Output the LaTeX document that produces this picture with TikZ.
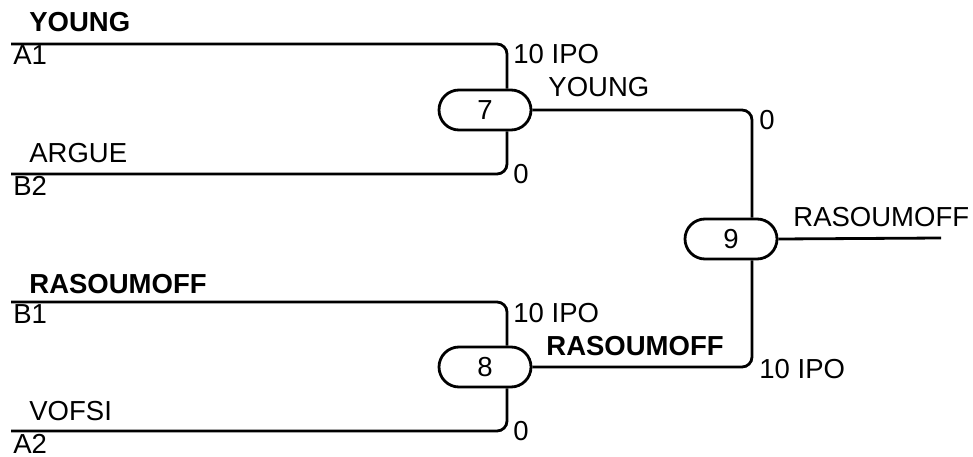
\documentclass[tikz,border=0pt]{standalone}
\usepackage{fontspec}
\setmainfont{Liberation Sans}
\usetikzlibrary{shapes.misc}

\begin{document}
\begin{tikzpicture}[x=1pt,y=-1pt,line width=2.8pt]
    \tikzstyle{every node}=[font=\fontsize{27.5}{33}\selectfont]
    \tikzstyle{gate}=[rounded rectangle,draw,minimum width=92pt,minimum height=40pt,inner sep=0pt]
    \tikzstyle{wire}=[rounded corners=10pt]
    \tikzstyle{lbl}=[anchor=base west,inner sep=0pt]
    \tikzstyle{team}=[lbl,font=\fontsize{27.5}{33}\selectfont\bfseries]

    \useasboundingbox (0,0) rectangle (973,457);

    % Draw the match nodes
    \node[gate] (G-7) at (485,110) {7};
    \node[gate] (G-8) at (485,367) {8};
    \node[gate] (G-9) at (731,239) {9};

    % Draw the entry points
    \foreach \name / \y in {A1/44,B2/174,B1/302,A2/431}
        \coordinate (E-\name) at (11,\y);
    \coordinate (out) at (941,238);

    % Connect every entry with its match
    \foreach \name / \g / \side in {A1/7/north,B2/7/south,B1/8/north,A2/8/south}
        \draw[wire] (E-\name) -| ([xshift=22pt]G-\g.\side);

    % Connect the matches with the final
    \draw[wire] (G-7.east) -| ([xshift=21pt]G-9.north);
    \draw[wire] (G-8.east) -| ([xshift=21pt]G-9.south);
    \draw (G-9.east) -- (out);

    % Annotate the entries
    \node[team] (t-A1) at (28,32) {YOUNG};
    \node[lbl] (n-A1) at (12,65) {A1};
    \node[lbl] (t-B2) at (28,163) {ARGUE};
    \node[lbl] (n-B2) at (12,195) {B2};
    \node[team] (t-B1) at (28,293) {RASOUMOFF};
    \node[lbl] (n-B1) at (12,323) {B1};
    \node[lbl] (t-A2) at (28,420) {VOFSI};
    \node[lbl] (n-A2) at (12,453) {A2};

    % Annotate the scores and winners
    \node[lbl] (s-A1) at (512,64) {10 IPO};
    \node[lbl] (s-B2) at (512,183) {0};
    \node[lbl] (s-B1) at (512,322) {10 IPO};
    \node[lbl] (s-A2) at (512,440) {0};
    \node[lbl] (w-7) at (547,97) {YOUNG};
    \node[team] (w-8) at (545,355) {RASOUMOFF};
    \node[lbl] (s-7) at (758,130) {0};
    \node[lbl] (s-8) at (758,378) {10 IPO};
    \node[lbl] (w-9) at (792,226) {RASOUMOFF};
\end{tikzpicture}
\end{document}
